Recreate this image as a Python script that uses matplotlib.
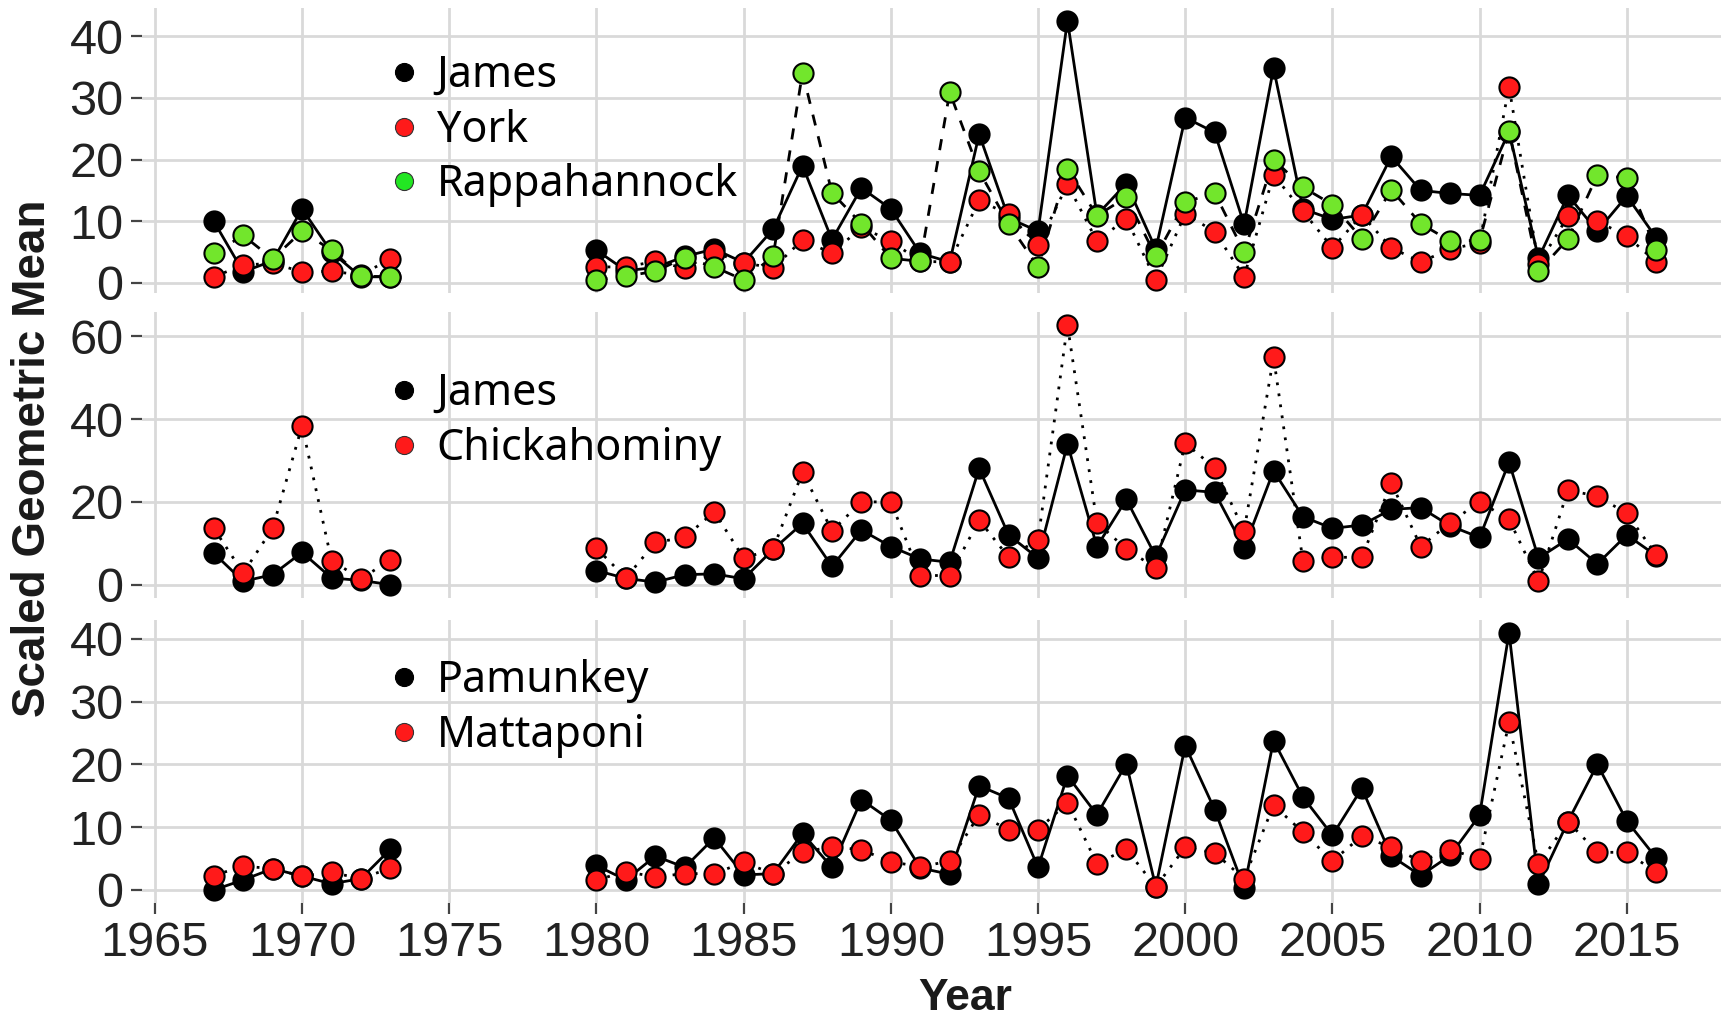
import matplotlib
matplotlib.use("Agg")
import matplotlib.pyplot as plt
import numpy as np
from matplotlib.lines import Line2D

years = [1967, 1968, 1969, 1970, 1971, 1972, 1973,
         1980, 1981, 1982, 1983, 1984, 1985, 1986, 1987, 1988, 1989,
         1990, 1991, 1992, 1993, 1994, 1995, 1996, 1997, 1998, 1999,
         2000, 2001, 2002, 2003, 2004, 2005, 2006, 2007, 2008, 2009,
         2010, 2011, 2012, 2013, 2014, 2015, 2016]

# Panel 1
james_1 = [10.0, 1.8, 3.6, 12.0, 5.0, 1.0, 1.0,
           5.3, 2.0, 2.5, 4.3, 5.5, 3.3, 8.7, 19.0, 7.0, 15.4,
           12.0, 4.8, 3.4, 24.1, 10.5, 8.4, 42.5, 11.0, 16.1, 5.5,
           26.8, 24.4, 9.5, 34.8, 12.0, 10.3, 11.0, 20.5, 15.0, 14.5,
           14.2, 24.5, 4.0, 14.2, 8.4, 14.1, 7.3]
york = [1.0, 2.9, 3.2, 1.8, 1.9, 1.3, 3.9,
        2.6, 2.6, 3.5, 2.4, 4.9, 3.3, 2.4, 7.0, 4.8, 9.0,
        6.8, 3.5, 3.4, 13.4, 11.1, 6.1, 16.0, 6.8, 10.4, 0.5,
        11.2, 8.3, 1.0, 17.5, 11.6, 5.7, 11.0, 5.7, 3.4, 5.5,
        6.5, 31.8, 3.0, 10.8, 10.0, 7.6, 3.4]
rappahannock = [4.8, 7.7, 3.9, 8.4, 5.3, 1.1, 1.0,
                0.5, 1.1, 1.9, 4.1, 2.6, 0.5, 4.3, 34.1, 14.6, 9.6,
                4.0, 3.5, 30.9, 18.1, 9.6, 2.6, 18.5, 10.9, 13.9, 4.3,
                13.1, 14.6, 5.0, 20.0, 15.5, 12.7, 7.2, 15.1, 9.6, 6.8,
                6.9, 24.6, 1.9, 7.1, 17.5, 17.0, 5.3]

# Panel 2
james_2 = [7.6, 0.8, 2.4, 7.8, 1.6, 1.0, 0.0,
           3.4, 1.5, 0.6, 2.4, 2.6, 1.4, 8.5, 14.8, 4.4, 13.2,
           9.2, 6.2, 5.4, 28.1, 12.0, 6.4, 34.0, 9.2, 20.6, 6.8,
           22.9, 22.3, 8.8, 27.5, 16.4, 13.6, 14.4, 18.2, 18.6, 14.2,
           11.4, 29.6, 6.4, 11.0, 5.0, 12.0, 7.0]
chickahominy = [13.6, 2.8, 13.6, 38.4, 5.8, 1.4, 6.0,
                8.8, 1.6, 10.2, 11.4, 17.6, 6.4, 8.6, 27.2, 13.0, 20.0,
                20.0, 2.2, 2.2, 15.6, 6.6, 10.8, 62.8, 15.0, 8.6, 4.0,
                34.2, 28.2, 13.0, 55.0, 5.6, 6.6, 6.6, 24.6, 9.2, 15.0,
                20.0, 15.8, 0.8, 22.8, 21.4, 17.2, 7.2]

# Panel 3
pamunkey = [0.0, 1.6, 3.4, 2.2, 1.0, 1.8, 6.5,
            3.9, 1.6, 5.4, 3.6, 8.3, 2.4, 2.6, 9.0, 3.6, 14.4,
            11.1, 3.5, 2.5, 16.6, 14.6, 3.6, 18.2, 12.0, 20.1, 0.5,
            23.0, 12.8, 0.3, 23.8, 14.8, 8.7, 16.2, 5.4, 2.3, 5.5,
            11.9, 41.0, 0.9, 10.9, 20.0, 11.0, 5.1]
mattaponi = [2.3, 3.8, 3.4, 2.2, 2.8, 1.8, 3.5,
             1.6, 2.9, 2.1, 2.6, 2.6, 4.4, 2.6, 6.0, 6.9, 6.4,
             4.5, 3.7, 4.6, 12.0, 9.6, 9.6, 13.9, 4.2, 6.5, 0.5,
             6.8, 5.9, 1.8, 13.5, 9.2, 4.6, 8.6, 6.8, 4.6, 6.4,
             5.0, 26.7, 4.1, 10.9, 6.0, 6.0, 2.8]

x_ticks = [1965, 1970, 1975, 1980, 1985, 1990, 1995, 2000, 2005, 2010, 2015]

RED = "#ff1a1a"
GREEN = "#72e62c"
GREEN_LEG = "#22e622"
TICK_FONT = "Liberation Sans"
LEG_FONT = "Noto Sans"

fig = plt.figure(figsize=(17.21, 10.29), dpi=100)
yrs = np.array(years)


def panel(rect, ylim, yticks, series, leg_top, show_x):
    ax = fig.add_axes(rect)
    for name, vals, col, lcol, ls in series:
        arr = np.array(vals, dtype=float)
        for mask in (yrs < 1975, yrs > 1975):
            ax.plot(yrs[mask], arr[mask], color="black", ls=ls, lw=2.0,
                    zorder=2)
    for i, (name, vals, col, lcol, ls) in enumerate(series):
        ax.plot(yrs, vals, ls="none", marker="o", ms=14.5, mfc=col,
                mec="black", mew=1.5, zorder=3 + i)
    ax.set_xlim(1964.55, 2018.2)
    ax.set_ylim(*ylim)
    ax.set_yticks(yticks)
    ax.set_xticks(x_ticks)
    ax.grid(True, color="#d9d9d9", lw=2.0)
    ax.set_axisbelow(True)
    for s in ax.spines.values():
        s.set_visible(False)
    ax.tick_params(axis="y", length=8, width=1.6, color="#444444", pad=5,
                   labelsize=35, labelcolor="#222222")
    for lab in ax.get_yticklabels():
        lab.set_family(TICK_FONT)
    if show_x:
        ax.tick_params(axis="x", length=8, width=1.6, color="#444444", pad=5,
                       labelsize=35, labelcolor="#222222")
        for lab in ax.get_xticklabels():
            lab.set_family(TICK_FONT)
    else:
        ax.tick_params(axis="x", length=0, labelbottom=False)
    handles = [Line2D([], [], ls="none", marker="o", ms=13, mfc=lcol,
                      mec=("black" if lcol == "black" else "#333333"), mew=0.8)
               for name, vals, col, lcol, ls in series]
    names = [s[0] for s in series]
    ax.legend(handles, names, loc="upper left", bbox_to_anchor=(0.159, leg_top),
              frameon=False, prop={"family": LEG_FONT, "size": 31},
              handlelength=0.5, handletextpad=0.52, labelspacing=0.25,
              borderpad=0, borderaxespad=0)
    return ax


left = 0.0823
width = 1 - left
panel([left, 0.7154, width, 0.2771], (-1.6, 44.6), [0, 10, 20, 30, 40],
      [("James", james_1, "black", "black", "-"),
       ("York", york, RED, RED, (0, (1, 3))),
       ("Rappahannock", rappahannock, GREEN, GREEN_LEG, (0, (4, 4)))],
      0.838, False)
panel([left, 0.4190, width, 0.2782], (-3.2, 66.0), [0, 20, 40, 60],
      [("James", james_2, "black", "black", "-"),
       ("Chickahominy", chickahominy, RED, RED, (0, (1, 3)))],
      0.788, False)
panel([left, 0.1226, width, 0.2751], (-2.05, 43.05), [0, 10, 20, 30, 40],
      [("Pamunkey", pamunkey, "black", "black", "-"),
       ("Mattaponi", mattaponi, RED, RED, (0, (1, 3)))],
      0.860, True)

fig.text(0.019, 0.555, "Scaled Geometric Mean", rotation=90, va="center",
         ha="center", fontsize=33, fontweight="bold", family=TICK_FONT,
         color="#1a1a1a")
fig.text(0.561, 0.030, "Year", va="center", ha="center", fontsize=32,
         fontweight="bold", family=TICK_FONT, color="#1a1a1a")

fig.savefig("out.png", dpi=100)
